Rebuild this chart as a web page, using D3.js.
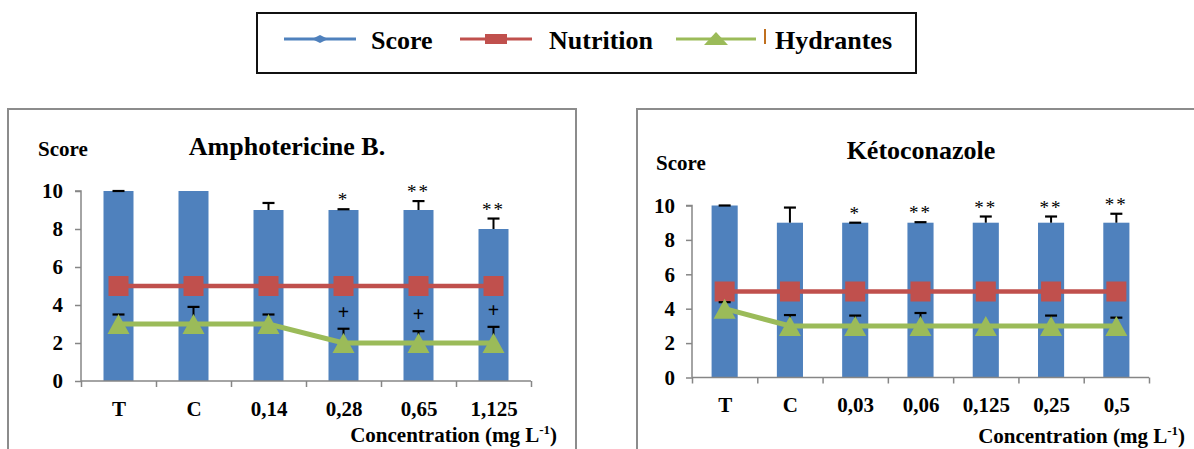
<!DOCTYPE html>
<html>
<head>
<meta charset="utf-8">
<script src="https://cdn.jsdelivr.net/npm/d3@7"></script>
<style>
  html, body { margin: 0; padding: 0; background: #fff; }
  svg { display: block; }
</style>
</head>
<body>
<svg id="chart" width="1194" height="449"></svg>
<script>
// ---------- DATA ----------
const legendLabels = ["Score", "Nutrition", "Hydrantes"];
const yTicks = [0, 2, 4, 6, 8, 10];
const xAxisTitle = "Concentration (mg L";
const xAxisTitleSup = "-1";

// Amphotericine B.
const ampTitle = "Amphotericine B.";
const ampCategories = ["T", "C", "0,14", "0,28", "0,65", "1,125"];
const ampScore = [10, 10, 9, 9, 9, 8];
const ampScoreErr = [0, null, 0.37, 0.04, 0.47, 0.55];
const ampNutrition = [5, 5, 5, 5, 5, 5];
const ampHydrantes = [3, 3, 3, 2, 2, 2];
const ampHydErr = [0.5, 0.9, 0.5, 0.75, 0.62, 0.85];
const ampScoreMarks = ["", "", "", "*", "**", "**"];
const ampHydMarks = ["", "", "", "+", "+", "+"];

// Kétoconazole
const ketTitle = "Kétoconazole";
const ketCategories = ["T", "C", "0,03", "0,06", "0,125", "0,25", "0,5"];
const ketScore = [10, 9, 9, 9, 9, 9, 9];
const ketScoreErr = [0, 0.88, 0, 0.03, 0.36, 0.36, 0.52];
const ketNutrition = [5, 5, 5, 5, 5, 5, 5];
const ketHydrantes = [4, 3, 3, 3, 3, 3, 3];
const ketHydErr = [0.38, 0.63, 0.6, 0.75, null, 0.6, 0.48];
const ketScoreMarks = ["", "", "*", "**", "**", "**", "**"];
const ketHydMarks = ["", "", "", "", "", "", ""];

// ---------- STYLE ----------
const BLUE = "#4F81BD", RED = "#C0504D", GREEN = "#9BBB59";
const AXIS = "#868686", FRAME = "#8C8C8C";
const FONT = "'Liberation Serif', 'DejaVu Serif', serif";

const svg = d3.select("#chart");

function txt(sel, size, weight) {
  return sel.style("font-family", FONT).style("font-size", size + "px")
    .style("font-weight", weight || "bold").attr("fill", "#000");
}

// ---------- LEGEND ----------
const lg = svg.append("g");
lg.append("rect").attr("x", 257).attr("y", 13).attr("width", 659).attr("height", 60)
  .attr("fill", "#fff").attr("stroke", "#111").attr("stroke-width", 2);
const legendLayout = [
  { x1: 284, x2: 356, tx: 371, color: BLUE, marker: "diamond" },
  { x1: 460, x2: 532, tx: 549, color: RED, marker: "square" },
  { x1: 676, x2: 756, tx: 775, color: GREEN, marker: "triangle" }
];
legendLabels.forEach((lab, i) => {
  const L = legendLayout[i];
  const ly = 39, cx = (L.x1 + L.x2) / 2;
  lg.append("line").attr("x1", L.x1).attr("x2", L.x2).attr("y1", ly).attr("y2", ly)
    .attr("stroke", L.color).attr("stroke-width", 3);
  if (L.marker === "diamond") {
    lg.append("path").attr("d", `M${cx-8},${ly} L${cx},${ly-4} L${cx+8},${ly} L${cx},${ly+4} Z`).attr("fill", L.color);
  } else if (L.marker === "square") {
    lg.append("rect").attr("x", cx - 11).attr("y", ly - 5).attr("width", 22).attr("height", 10).attr("fill", L.color);
  } else {
    lg.append("path").attr("d", `M${cx-12},${ly+6} L${cx},${ly-7} L${cx+12},${ly+6} Z`).attr("fill", L.color);
  }
  txt(lg.append("text").attr("x", L.tx).attr("y", 49), 26).text(lab);
});
// small error-bar legend artifact
lg.append("line").attr("x1", 765).attr("x2", 765).attr("y1", 29).attr("y2", 44)
  .attr("stroke", "#C0701F").attr("stroke-width", 2);

// ---------- PANEL ----------
function panel(cfg) {
  const g = svg.append("g");
  g.append("rect").attr("x", cfg.frame[0]).attr("y", cfg.frame[1]).attr("width", cfg.frame[2])
    .attr("height", cfg.frame[3]).attr("fill", "#fff").attr("stroke", FRAME).attr("stroke-width", 2);

  const x = d3.scalePoint().domain(cfg.categories).range([cfg.x0, cfg.x1]).padding(0.5);
  const xi = d3.scaleLinear().domain([0, cfg.categories.length]).range([cfg.x0, cfg.x1]);
  const y = d3.scaleLinear().domain([0, 10]).range([cfg.y0, cfg.y1]);
  const bw = x.step() * 0.4;

  // title and y label
  txt(g.append("text").attr("x", cfg.titleX).attr("y", cfg.titleY).attr("text-anchor", "middle"), 26)
    .text(cfg.title);
  txt(g.append("text").attr("x", cfg.scoreX).attr("y", cfg.scoreY), 21).text(legendLabels[0]);

  // bars
  g.selectAll(".bar").data(cfg.score).join("rect")
    .attr("x", (d, i) => x(cfg.categories[i]) - bw / 2)
    .attr("y", d => y(d)).attr("width", bw).attr("height", d => y(0) - y(d))
    .attr("fill", BLUE);

  // y axis
  const ya = g.append("g").attr("transform", `translate(${cfg.x0},0)`)
    .call(d3.axisLeft(y).tickValues(yTicks).tickSize(6).tickPadding(cfg.yPad).tickFormat(d3.format("d")));
  ya.select(".domain").attr("stroke", AXIS).attr("stroke-width", 1.5).attr("d", `M-6,${y(10)}H0V${y(0)}`);
  ya.selectAll(".tick line").attr("stroke", AXIS).attr("stroke-width", 1.5);
  txt(ya.selectAll(".tick text"), 21);

  // x axis (boundary ticks)
  const xa = g.append("g").attr("transform", `translate(0,${cfg.y0})`)
    .call(d3.axisBottom(xi).tickValues(d3.range(cfg.categories.length + 1)).tickSize(6).tickFormat(""));
  xa.select(".domain").attr("stroke", AXIS).attr("stroke-width", 1.5).attr("d", `M${cfg.x0},0H${cfg.x1}`);
  xa.selectAll(".tick line").attr("stroke", AXIS).attr("stroke-width", 1.5);
  // category labels
  const xl = g.append("g").attr("transform", `translate(0,${cfg.y0})`)
    .call(d3.axisBottom(x).tickSize(0));
  xl.select(".domain").remove();
  txt(xl.selectAll(".tick text").attr("y", cfg.labelDy).attr("dy", null), 21);

  // x axis title
  const xt = txt(g.append("text").attr("x", cfg.xTitleX).attr("y", cfg.xTitleY).attr("text-anchor", "end"), 21);
  xt.append("tspan").text(xAxisTitle);
  xt.append("tspan").style("font-size", "13px").attr("dy", -8).text(xAxisTitleSup);
  xt.append("tspan").attr("dy", 8).text(")");

  // error bars
  function errBar(cxv, v, e) {
    if (e === null) return null;
    const yt = y(v + e);
    g.append("line").attr("x1", cxv).attr("x2", cxv).attr("y1", y(v)).attr("y2", yt)
      .attr("stroke", "#000").attr("stroke-width", 2);
    g.append("line").attr("x1", cxv - 6).attr("x2", cxv + 6).attr("y1", yt).attr("y2", yt)
      .attr("stroke", "#000").attr("stroke-width", 2.2);
    return yt;
  }
  cfg.score.forEach((v, i) => {
    const cx = x(cfg.categories[i]);
    const yt = errBar(cx, v, cfg.scoreErr[i]);
    if (cfg.scoreMarks[i]) {
      txt(g.append("text").attr("x", cx).attr("y", (yt ?? y(v)) - 3).attr("text-anchor", "middle"), 19, "normal")
        .attr("letter-spacing", 2).text(cfg.scoreMarks[i]);
    }
  });

  // nutrition line
  const line = d3.line().x((d, i) => x(cfg.categories[i])).y(d => y(d));
  g.append("path").datum(cfg.nutrition).attr("d", line).attr("fill", "none")
    .attr("stroke", RED).attr("stroke-width", 4.5);
  g.selectAll(".sq").data(cfg.nutrition).join("rect")
    .attr("x", (d, i) => x(cfg.categories[i]) - 10).attr("y", d => y(d) - 10)
    .attr("width", 20).attr("height", 20).attr("fill", RED);

  // hydrantes line
  g.append("path").datum(cfg.hyd).attr("d", line).attr("fill", "none")
    .attr("stroke", GREEN).attr("stroke-width", 5);
  cfg.hyd.forEach((v, i) => {
    const cx = x(cfg.categories[i]);
    const yt = errBar(cx, v, cfg.hydErr[i]);
    if (cfg.hydMarks[i]) {
      txt(g.append("text").attr("x", cx).attr("y", yt - 10).attr("text-anchor", "middle"), 20)
        .text(cfg.hydMarks[i]);
    }
  });
  g.selectAll(".tri").data(cfg.hyd).join("path")
    .attr("d", (d, i) => {
      const cx = x(cfg.categories[i]), cy = y(d);
      return `M${cx-11},${cy+10} L${cx},${cy-10} L${cx+11},${cy+10} Z`;
    })
    .attr("fill", GREEN);
}

panel({
  frame: [8, 109, 568, 360],
  categories: ampCategories, score: ampScore, scoreErr: ampScoreErr, scoreMarks: ampScoreMarks,
  nutrition: ampNutrition, hyd: ampHydrantes, hydErr: ampHydErr, hydMarks: ampHydMarks,
  x0: 81, x1: 531, y0: 381, y1: 191, yPad: 12, labelDy: 35,
  title: ampTitle, titleX: 287, titleY: 155, scoreX: 38, scoreY: 156,
  xTitleX: 557, xTitleY: 442
});

panel({
  frame: [637, 109, 600, 360],
  categories: ketCategories, score: ketScore, scoreErr: ketScoreErr, scoreMarks: ketScoreMarks,
  nutrition: ketNutrition, hyd: ketHydrantes, hydErr: ketHydErr, hydMarks: ketHydMarks,
  x0: 692, x1: 1149, y0: 377.5, y1: 205.5, yPad: 11, labelDy: 34,
  title: ketTitle, titleX: 921, titleY: 159, scoreX: 656, scoreY: 170,
  xTitleX: 1185, xTitleY: 443
});
</script>
</body>
</html>
